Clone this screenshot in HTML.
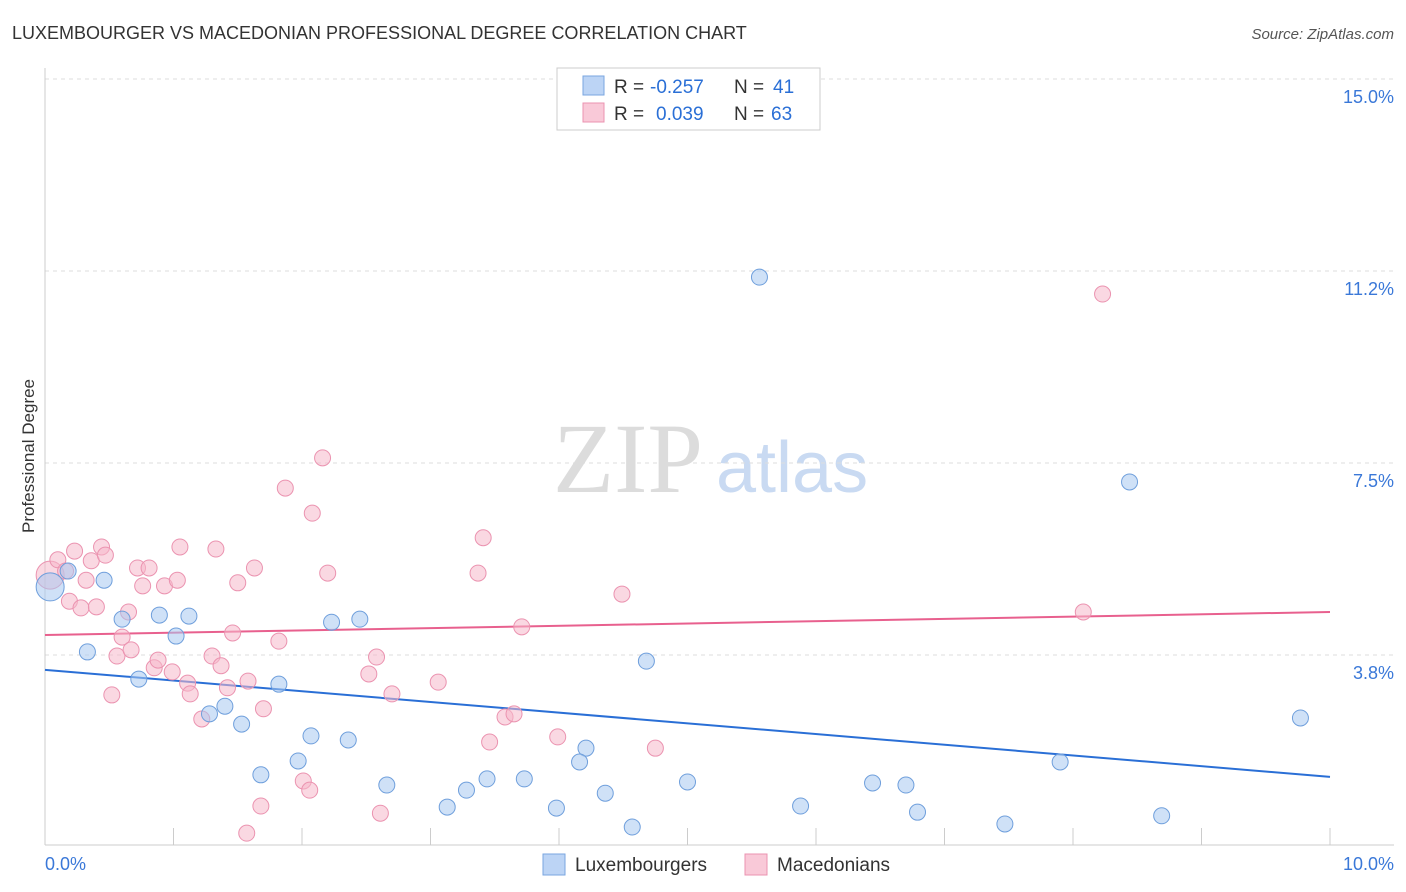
<!DOCTYPE html>
<html><head><meta charset="utf-8">
<style>
body{margin:0;background:#fff;font-family:"Liberation Sans",sans-serif;}
svg{display:block}
</style></head>
<body>
<svg id="chart" width="1406" height="892" xmlns="http://www.w3.org/2000/svg">
<text x="12" y="39" font-size="18" fill="#333">LUXEMBOURGER VS MACEDONIAN PROFESSIONAL DEGREE CORRELATION CHART</text>
<text x="1394" y="39" font-size="15" fill="#555" text-anchor="end" font-style="italic">Source: ZipAtlas.com</text>
<g>
<text x="553" y="492" font-family="Liberation Serif,serif" font-size="100" fill="#dcdcdc">ZIP</text>
<text x="716" y="492" font-size="72" fill="#c9daf2">atlas</text>
</g>
<g id="grid"></g>
<g id="axes"></g>
<text transform="translate(34,456) rotate(-90)" font-size="17" fill="#333" text-anchor="middle">Professional Degree</text>
<g id="lines"></g>
<g id="points"></g>
<g>
<rect x="557" y="68" width="263" height="62" fill="#fff" stroke="#ccc"/>
<rect x="583" y="76" width="21" height="19" fill="#bcd4f5" stroke="#7aa6e0"/>
<text x="614" y="93" font-size="19" fill="#333">R =</text><text x="650" y="93" font-size="19" fill="#2a6fd6">-0.257</text>
<text x="734" y="93" font-size="19" fill="#333">N =</text><text x="773" y="93" font-size="19" fill="#2a6fd6">41</text>
<rect x="583" y="103" width="21" height="19" fill="#f9c9d8" stroke="#eb93b0"/>
<text x="614" y="120" font-size="19" fill="#333">R =</text><text x="656" y="120" font-size="19" fill="#2a6fd6">0.039</text>
<text x="734" y="120" font-size="19" fill="#333">N =</text><text x="771" y="120" font-size="19" fill="#2a6fd6">63</text>
</g>
<g>
<rect x="543" y="854" width="22" height="21" fill="#bcd4f5" stroke="#7aa6e0"/>
<text x="575" y="871" font-size="19" fill="#333">Luxembourgers</text></g>
<g>
<rect x="745" y="854" width="22" height="21" fill="#f9c9d8" stroke="#eb93b0"/>
<text x="777" y="871" font-size="19" fill="#333">Macedonians</text></g>
</svg>
<script>
const yTicks=[15.0,11.25,7.5,3.75];
const yTickLabels=["15.0%","11.2%","7.5%","3.8%"];
const xTickLabels=["0.0%","10.0%"];
const luxX=[.04,.18,.46,.33,.60,.89,1.12,1.02,.73,1.28,1.40,1.53,1.82,2.23,2.45,2.07,1.97,2.36,1.68,2.66,3.13,3.28,3.44,3.73,3.98,4.21,4.16,4.36,4.57,4.68,5.00,5.56,5.88,6.44,6.70,6.79,7.47,7.90,8.44,8.69,9.77];
const luxY=[5.08,5.39,5.21,3.81,4.45,4.53,4.51,4.12,3.28,2.60,2.75,2.40,3.18,4.39,4.45,2.17,1.68,2.09,1.41,1.21,.78,1.11,1.33,1.33,.76,1.93,1.66,1.05,.39,3.63,1.27,11.13,.80,1.25,1.21,.68,.45,1.66,7.13,.61,2.52];
const macX=[.04,.10,.23,.16,.19,.28,.32,.36,.40,.44,.47,.52,.56,.60,.65,.67,.72,.76,.81,.85,.88,.93,.99,1.03,1.05,1.11,1.13,1.22,1.30,1.33,1.37,1.42,1.46,1.50,1.58,1.63,1.70,1.68,1.57,1.82,1.87,2.01,2.06,2.08,2.16,2.20,2.52,2.58,2.61,2.70,3.06,3.37,3.41,3.46,3.58,3.65,3.71,3.99,4.49,4.75,8.08,8.23];
const macY=[5.31,5.61,5.78,5.39,4.80,4.67,5.21,5.59,4.69,5.86,5.70,2.97,3.73,4.10,4.59,3.85,5.45,5.10,5.45,3.50,3.65,5.10,3.42,5.21,5.86,3.20,2.99,2.50,3.73,5.82,3.54,3.11,4.18,5.16,3.24,5.45,2.70,.80,.27,4.02,7.01,1.29,1.11,6.52,7.60,5.35,3.38,3.71,.66,2.99,3.22,5.35,6.04,2.05,2.54,2.60,4.30,2.15,4.94,1.93,4.59,10.80];
const luxTrend=[3.46,1.37];
const macTrend=[4.14,4.59];
const NS="http://www.w3.org/2000/svg";
const xs=v=>45+v*128.5, ys=v=>847-v*51.2;
function mk(t,a,p){const e=document.createElementNS(NS,t);for(const k in a)e.setAttribute(k,a[k]);p.appendChild(e);return e;}
const grid=document.getElementById('grid'),axes=document.getElementById('axes');
yTicks.forEach((t,i)=>{
 mk('line',{x1:45,x2:1394,y1:ys(t),y2:ys(t),stroke:'#ddd','stroke-dasharray':'4,4'},grid);
 const tx=mk('text',{x:1394,y:ys(t)+24,'font-size':18,fill:'#3a78d8','text-anchor':'end'},axes);
 tx.textContent=yTickLabels[i];
 
 
});
mk('line',{x1:45,x2:45,y1:68,y2:845,stroke:'#ccc'},axes);
mk('line',{x1:45,x2:1394,y1:845,y2:845,stroke:'#ccc'},axes);
for(let k=1;k<=10;k++){mk('line',{x1:xs(k),x2:xs(k),y1:828,y2:845,stroke:'#ccc'},axes);}
[[0,'start',45],[10,'end',1394]].forEach((d,i)=>{
 const tx=mk('text',{x:d[2],y:870,'font-size':18,fill:'#3a78d8','text-anchor':d[1]},axes);
 tx.textContent=xTickLabels[i];
 
 
});
const pts=document.getElementById('points'),lines=document.getElementById('lines');
function series(X,Y,fill,stroke,name){
 X.forEach((x,i)=>{
  const c=mk('circle',{cx:xs(x),cy:ys(Y[i]),r:i===0?14:8,fill:fill,'fill-opacity':0.55,stroke:stroke,'stroke-width':1},pts);
  
  
 });
}
series(macX,macY,'#f5b8cb','#eb93b0','macedonian-point');
series(luxX,luxY,'#a8c8f0','#6f9fdc','luxembourger-point');
const l1=mk('line',{x1:xs(0),y1:ys(luxTrend[0]),x2:xs(10),y2:ys(luxTrend[1]),stroke:'#2a6fd6','stroke-width':2},lines);


const l2=mk('line',{x1:xs(0),y1:ys(macTrend[0]),x2:xs(10),y2:ys(macTrend[1]),stroke:'#e8608e','stroke-width':2},lines);


</script>
</body></html>
